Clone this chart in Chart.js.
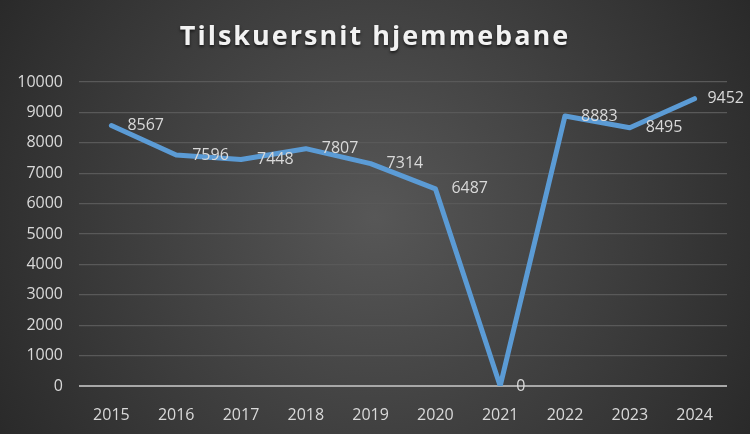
<!DOCTYPE html>
<html>
<head>
<meta charset="utf-8">
<script src="https://cdn.jsdelivr.net/npm/chart.js@4"></script>
<style>
  html, body { margin: 0; padding: 0; background: #333; }
  #wrap { width: 750px; height: 434px; }
</style>
</head>
<body>
<div id="wrap"><canvas id="chart" width="750" height="434"></canvas></div>
<script>
const years = ['2015', '2016', '2017', '2018', '2019', '2020', '2021', '2022', '2023', '2024'];
const attendance = [8567, 7596, 7448, 7807, 7314, 6487, 0, 8883, 8495, 9452];
const chartTitle = 'Tilskuersnit hjemmebane';

const textColor = '#d9d9d9';
const fontFamily = "'Open Sans', sans-serif";

// dark radial backdrop like the office theme
const backdrop = {
    id: 'backdrop',
    beforeDraw(chart) {
        const ctx = chart.ctx;
        const w = chart.width, h = chart.height;
        const g = ctx.createRadialGradient(w / 2, h / 2, 0, w / 2, h / 2, w * 0.6);
        g.addColorStop(0, '#575757');
        g.addColorStop(1, '#282828');
        ctx.save();
        ctx.fillStyle = g;
        ctx.fillRect(0, 0, w, h);
        ctx.restore();
    }
};

// spaced bold title with soft shadow
const spacedTitle = {
    id: 'spacedTitle',
    afterDraw(chart) {
        const ctx = chart.ctx;
        ctx.save();
        ctx.font = "bold 27px " + fontFamily;
        ctx.letterSpacing = '2px';
        ctx.textAlign = 'center';
        ctx.textBaseline = 'middle';
        ctx.shadowColor = 'rgba(0,0,0,0.6)';
        ctx.shadowBlur = 3;
        ctx.shadowOffsetY = 2;
        ctx.fillStyle = '#f2f2f2';
        ctx.fillText(chartTitle, chart.width / 2, 37);
        ctx.restore();
    }
};

// value labels right of each point, kept inside the canvas
const valueLabels = {
    id: 'valueLabels',
    afterDatasetsDraw(chart) {
        const ctx = chart.ctx;
        const meta = chart.getDatasetMeta(0);
        ctx.save();
        ctx.font = "16px " + fontFamily;
        ctx.fillStyle = textColor;
        ctx.textAlign = 'left';
        ctx.textBaseline = 'middle';
        meta.data.forEach((pt, i) => {
            const txt = String(chart.data.datasets[0].data[i]);
            const w = ctx.measureText(txt).width;
            const x = Math.min(pt.x + 16, chart.width - 6 - w);
            ctx.fillText(txt, x, pt.y);
        });
        ctx.restore();
    }
};

new Chart(document.getElementById('chart'), {
    type: 'line',
    data: {
        labels: years,
        datasets: [{
            data: attendance,
            borderColor: '#5b9bd5',
            borderWidth: 5,
            borderJoinStyle: 'round',
            borderCapStyle: 'round',
            pointRadius: 0,
            tension: 0
        }]
    },
    options: {
        responsive: false,
        animation: false,
        layout: { padding: { top: 82, right: 23, left: 0, bottom: 0 } },
        plugins: {
            legend: { display: false },
            title: { display: false },
            tooltip: { enabled: false }
        },
        scales: {
            x: {
                offset: true,
                grid: { display: false },
                border: { display: false },
                ticks: { color: textColor, font: { family: fontFamily, size: 16 }, padding: 12 },
                afterFit(scale) { scale.height = 48; }
            },
            y: {
                min: 0,
                max: 10000,
                ticks: {
                    stepSize: 1000,
                    color: textColor,
                    font: { family: fontFamily, size: 16 },
                    padding: 16,
                    callback: v => String(v)
                },
                grid: {
                    color: ctx => ctx.tick.value === 0 ? '#a8a8a8' : '#595959',
                    lineWidth: ctx => ctx.tick.value === 0 ? 2 : 1.2,
                    drawTicks: false
                },
                border: { display: false },
                afterFit(scale) { scale.width = 79; }
            }
        }
    },
    plugins: [backdrop, spacedTitle, valueLabels]
});
</script>
</body>
</html>
